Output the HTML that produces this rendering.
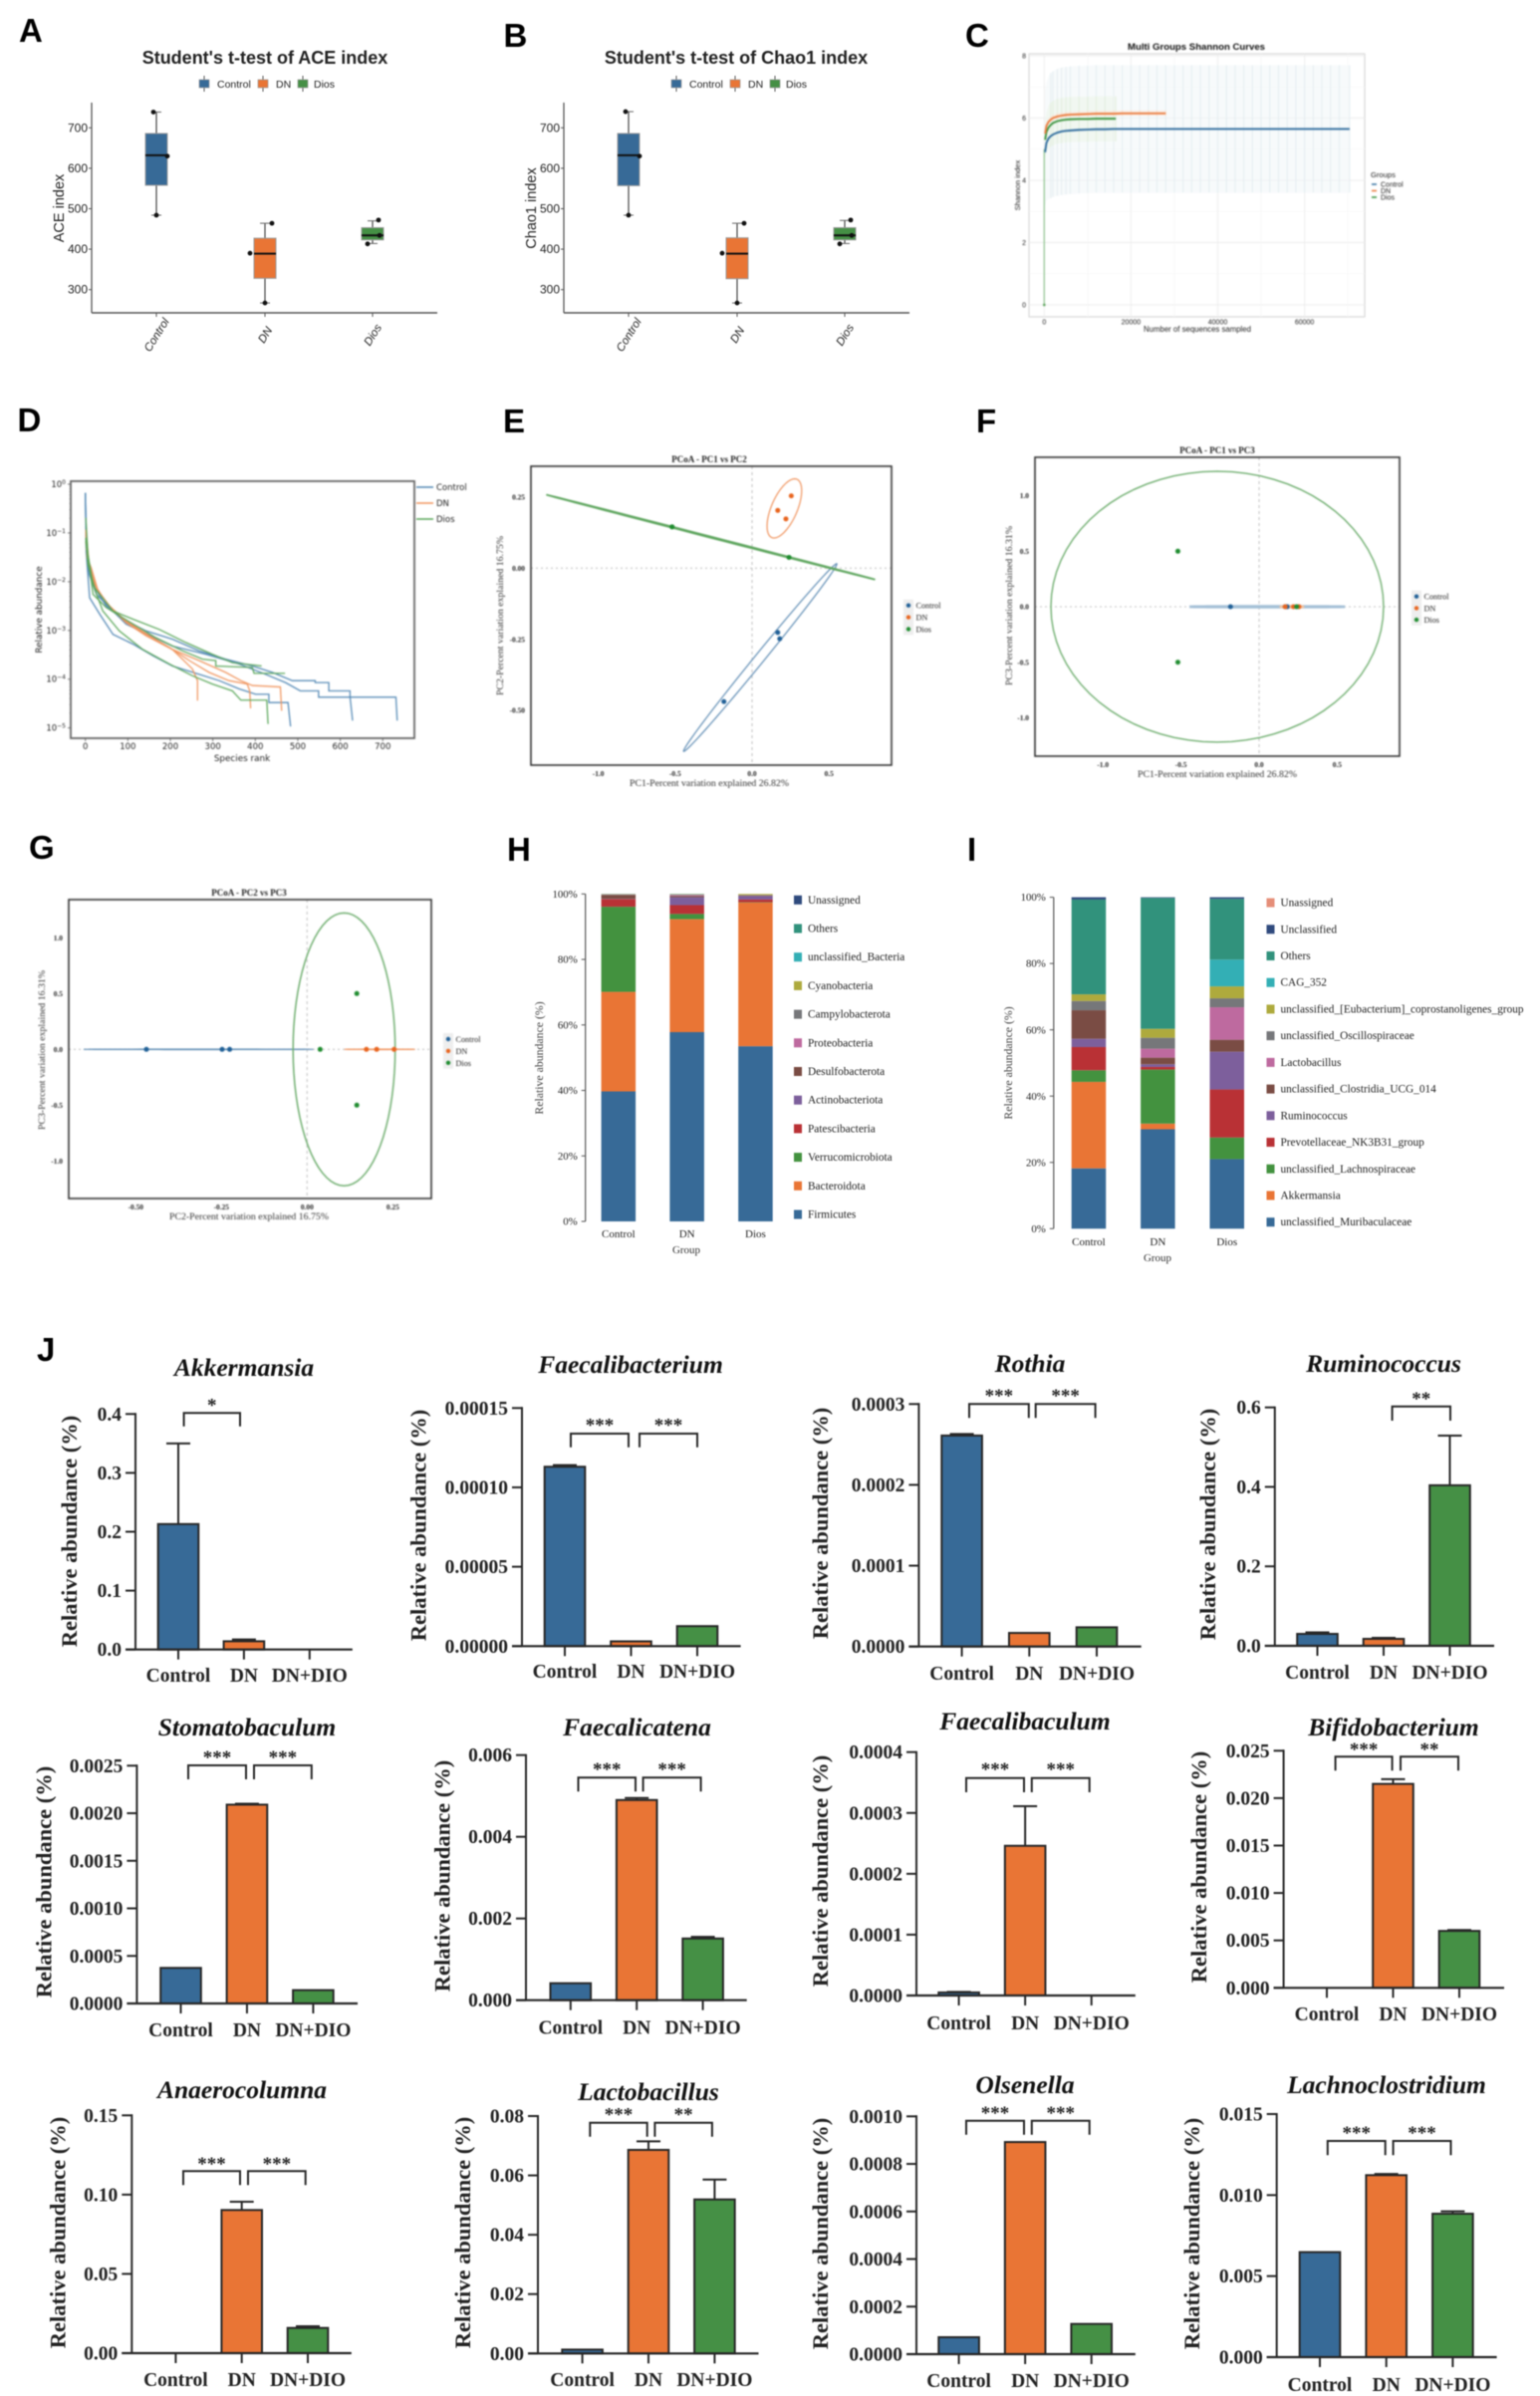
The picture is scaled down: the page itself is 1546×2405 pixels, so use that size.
<!DOCTYPE html>
<html lang="en">
<head>
<meta charset="utf-8">
<title>Gut microbiota diversity and abundance figure</title>
<style>
html,body{margin:0;padding:0;background:#fff;}
svg{display:block;}
text{fill:#222;}
.ss{font-family:"Liberation Sans",sans-serif;}
.sr{font-family:"Liberation Serif",serif;}
.dv{font-family:"DejaVu Sans",sans-serif;}
.letter{font-family:"Liberation Sans",sans-serif;font-weight:700;font-size:33px;fill:#000;}
.b-a{filter:blur(.6px);}
.b-c{filter:blur(.8px);}
.b-d{filter:blur(.8px);}
.b-p{filter:blur(.7px);}
.b-s{filter:blur(.6px);}
.b-j{filter:blur(.45px);}
.jt{font-family:"Liberation Serif",serif;font-weight:700;font-style:italic;font-size:25.5px;text-anchor:middle;fill:#111;}
.jy{font-family:"Liberation Serif",serif;font-weight:700;font-size:22.5px;text-anchor:middle;fill:#222;}
.pt{font-family:"Liberation Serif",serif;font-weight:700;font-size:9px;text-anchor:middle;}
.pa{font-family:"Liberation Serif",serif;font-size:9.2px;text-anchor:middle;fill:#333;}
.sy{font-family:"Liberation Serif",serif;font-size:11.8px;text-anchor:middle;fill:#444;}
.sx{font-family:"Liberation Serif",serif;font-size:11px;text-anchor:middle;fill:#333;}
</style>
</head>
<body>
<svg id="fig" xmlns="http://www.w3.org/2000/svg" width="1546" height="2405" viewBox="0 0 1546 2405">
<rect width="1546" height="2405" fill="#fff"/>

<g class="b-a">
<text class="letter" x="19" y="42">A</text>
<text class="letter" x="505.5" y="47">B</text>
<text class="letter" x="969" y="47">C</text>
<text class="letter" x="17.5" y="433">D</text>
<text class="letter" x="505" y="434">E</text>
<text class="letter" x="980" y="434">F</text>
<text class="letter" x="29" y="862">G</text>
<text class="letter" x="509" y="864">H</text>
<text class="letter" x="971" y="864">I</text>
<text class="letter" x="37" y="1366">J</text>
</g>

<g id="panel-a" class="b-a">
<text class="ss" x="266" y="64" font-size="18" font-weight="700" text-anchor="middle">Student's t-test of ACE index</text>
<text class="ss" transform="translate(64,209) rotate(-90)" font-size="14.5" text-anchor="middle" fill="#333">ACE index</text>
</g>
<g id="panel-b" class="b-a">
<text class="ss" x="739" y="64" font-size="18" font-weight="700" text-anchor="middle">Student's t-test of Chao1 index</text>
<text class="ss" transform="translate(538,209) rotate(-90)" font-size="14.5" text-anchor="middle" fill="#333">Chao1 index</text>
</g>

<g id="panel-c" class="b-c">
<text class="ss" x="1201" y="50" font-size="9.6" font-weight="700" text-anchor="middle" style="fill:#111">Multi Groups Shannon Curves</text>
<text class="ss" transform="translate(1024,186) rotate(-90)" font-size="7.6" text-anchor="middle" fill="#444">Shannon index</text>
<text class="ss" x="1202" y="333" font-size="7.8" text-anchor="middle" fill="#444">Number of sequences sampled</text>
<text class="ss" x="1376" y="178" font-size="7.6" fill="#333">Groups</text>
</g>

<g id="panel-d" class="b-d">
<text class="dv" transform="translate(42,612) rotate(-90)" font-size="8.8" text-anchor="middle" fill="#333">Relative abundance</text>
<text class="dv" x="243" y="764" font-size="8.8" text-anchor="middle" fill="#333">Species rank</text>
</g>

<g id="panel-e" class="b-p">
<text class="pt" x="712" y="464">PCoA - PC1 vs PC2</text>
<text class="pa" x="712" y="789" textLength="160" lengthAdjust="spacingAndGlyphs">PC1-Percent variation explained 26.82%</text>
<text class="pa" transform="translate(505,618) rotate(-90)" textLength="160" lengthAdjust="spacingAndGlyphs">PC2-Percent variation explained 16.75%</text>
</g>
<g id="panel-f" class="b-p">
<text class="pt" x="1222" y="455">PCoA - PC1 vs PC3</text>
<text class="pa" x="1222" y="780" textLength="160" lengthAdjust="spacingAndGlyphs">PC1-Percent variation explained 26.82%</text>
<text class="pa" transform="translate(1016,608) rotate(-90)" textLength="160" lengthAdjust="spacingAndGlyphs">PC3-Percent variation explained 16.31%</text>
</g>
<g id="panel-g" class="b-p">
<text class="pt" x="250" y="899">PCoA - PC2 vs PC3</text>
<text class="pa" x="250" y="1224" textLength="160" lengthAdjust="spacingAndGlyphs">PC2-Percent variation explained 16.75%</text>
<text class="pa" transform="translate(45,1054) rotate(-90)" textLength="160" lengthAdjust="spacingAndGlyphs">PC3-Percent variation explained 16.31%</text>
</g>

<g id="panel-h" class="b-s">
<text class="sy" transform="translate(545,1062) rotate(-90)">Relative abundance (%)</text>
<text class="sx" x="689" y="1258">Group</text>
</g>
<g id="panel-i" class="b-s">
<text class="sy" transform="translate(1016,1067) rotate(-90)">Relative abundance (%)</text>
<text class="sx" x="1162" y="1266">Group</text>
</g>

<g id="chart-akkermansia" class="b-j">
<text class="jt" x="245" y="1381">Akkermansia</text>
<text class="jy" transform="translate(77,1537) rotate(-90)">Relative abundance (%)</text>
</g>
<g id="chart-faecalibacterium" class="b-j">
<text class="jt" x="633" y="1378">Faecalibacterium</text>
<text class="jy" transform="translate(427.5,1531) rotate(-90)">Relative abundance (%)</text>
</g>
<g id="chart-rothia" class="b-j">
<text class="jt" x="1034" y="1377">Rothia</text>
<text class="jy" transform="translate(831,1529) rotate(-90)">Relative abundance (%)</text>
</g>
<g id="chart-ruminococcus" class="b-j">
<text class="jt" x="1389" y="1377">Ruminococcus</text>
<text class="jy" transform="translate(1220,1530) rotate(-90)">Relative abundance (%)</text>
</g>
<g id="chart-stomatobaculum" class="b-j">
<text class="jt" x="248" y="1742">Stomatobaculum</text>
<text class="jy" transform="translate(51.6,1889) rotate(-90)">Relative abundance (%)</text>
</g>
<g id="chart-faecalicatena" class="b-j">
<text class="jt" x="639.5" y="1742">Faecalicatena</text>
<text class="jy" transform="translate(451.6,1883) rotate(-90)">Relative abundance (%)</text>
</g>
<g id="chart-faecalibaculum" class="b-j">
<text class="jt" x="1029" y="1736">Faecalibaculum</text>
<text class="jy" transform="translate(831,1878) rotate(-90)">Relative abundance (%)</text>
</g>
<g id="chart-bifidobacterium" class="b-j">
<text class="jt" x="1399" y="1742">Bifidobacterium</text>
<text class="jy" transform="translate(1211,1874) rotate(-90)">Relative abundance (%)</text>
</g>
<g id="chart-anaerocolumna" class="b-j">
<text class="jt" x="243" y="2106">Anaerocolumna</text>
<text class="jy" transform="translate(65.4,2241) rotate(-90)">Relative abundance (%)</text>
</g>
<g id="chart-lactobacillus" class="b-j">
<text class="jt" x="651" y="2108">Lactobacillus</text>
<text class="jy" transform="translate(472,2241) rotate(-90)">Relative abundance (%)</text>
</g>
<g id="chart-olsenella" class="b-j">
<text class="jt" x="1029" y="2101">Olsenella</text>
<text class="jy" transform="translate(831,2242) rotate(-90)">Relative abundance (%)</text>
</g>
<g id="chart-lachnoclostridium" class="b-j">
<text class="jt" x="1392" y="2101">Lachnoclostridium</text>
<text class="jy" transform="translate(1204,2242) rotate(-90)">Relative abundance (%)</text>
</g>
</svg>

<script>
/* ---------- Panels A/B: boxplot data ---------- */
const boxCategories = ['Control', 'DN', 'Dios'];
const boxTickLabels = ['300', '400', '500', '600', '700'];
const aceMax = [739, 464, 470];
const aceQ3 = [686, 427, 453];
const aceMedian = [632, 389, 434];
const aceQ1 = [558, 328, 423];
const aceMin = [484, 267, 414];
const acePointsControl = [739, 630, 484];
const acePointsDN = [464, 390, 267];
const acePointsDios = [472, 434, 413];
const chaoMax = [740, 464, 471];
const chaoQ3 = [686, 428, 453];
const chaoMedian = [632, 389, 434];
const chaoQ1 = [557, 327, 423];
const chaoMin = [484, 267, 414];
const chaoPointsControl = [740, 630, 484];
const chaoPointsDN = [464, 390, 267];
const chaoPointsDios = [472, 434, 413];

/* ---------- Panel C: Shannon rarefaction data ---------- */
const shannonXTicks = ['0', '20000', '40000', '60000'];
const shannonYTicks = ['0', '2', '4', '6', '8'];
const controlDepths = [0,200,500,1000,1500,2000,3000,4000,5000,6000,8000,10000,12000,14000,16000,18000,20000,22000,24000,26000,28000,30000,32000,34000,36000,38000,40000,42000,44000,46000,48000,50000,52000,54000,56000,58000,60000,62000,64000,66000,68000,70400];
const controlMeans = [0,4.9,5.2,5.35,5.42,5.47,5.53,5.57,5.59,5.6,5.62,5.63,5.64,5.64,5.65,5.65,5.65,5.65,5.65,5.65,5.65,5.65,5.65,5.65,5.65,5.65,5.65,5.65,5.65,5.65,5.65,5.65,5.65,5.65,5.65,5.65,5.65,5.65,5.65,5.65,5.65,5.65];
const controlUppers = [0,6.9,7.15,7.35,7.45,7.5,7.58,7.62,7.64,7.66,7.68,7.69,7.7,7.7,7.7,7.7,7.7,7.7,7.7,7.7,7.7,7.7,7.7,7.7,7.7,7.7,7.7,7.7,7.7,7.7,7.7,7.7,7.7,7.7,7.7,7.7,7.7,7.7,7.7,7.7,7.7,7.7];
const controlLowers = [0,3.2,3.35,3.4,3.43,3.47,3.5,3.53,3.55,3.56,3.58,3.59,3.6,3.6,3.6,3.6,3.6,3.6,3.6,3.6,3.6,3.6,3.6,3.6,3.6,3.6,3.6,3.6,3.6,3.6,3.6,3.6,3.6,3.6,3.6,3.6,3.6,3.6,3.6,3.6,3.6,3.6];
const dnDepths = [0,200,500,1000,1500,2000,3000,4000,5000,6000,8000,10000,12000,14000,16000,18000,20000,22000,24000,26000,28000];
const dnMeans = [0,5.5,5.75,5.88,5.95,6,6.05,6.08,6.1,6.11,6.12,6.13,6.14,6.14,6.14,6.15,6.15,6.15,6.15,6.15,6.15];
const dnUppers = [0,5.6,5.85,5.98,6.05,6.1,6.15,6.18,6.2,6.21,6.22,6.23,6.24,6.24,6.24,6.25,6.25,6.25,6.25,6.25,6.25];
const dnLowers = [0,5.4,5.65,5.8,5.87,5.92,5.97,6,6.02,6.03,6.04,6.05,6.06,6.06,6.06,6.07,6.07,6.07,6.07,6.07,6.07];
const diosDepths = [0,200,500,1000,1500,2000,3000,4000,5000,6000,8000,10000,12000,14000,16500];
const diosMeans = [0,5.3,5.55,5.7,5.78,5.84,5.9,5.93,5.95,5.96,5.97,5.97,5.98,5.98,5.98];
const diosUppers = [0,5.9,6.2,6.4,6.5,6.55,6.62,6.65,6.67,6.68,6.69,6.69,6.7,6.7,6.7];
const diosLowers = [0,4.7,4.9,5,5.08,5.12,5.18,5.2,5.22,5.23,5.24,5.24,5.25,5.25,5.25];

/* ---------- Panel D: rank abundance curves, [rank, log10 abundance] ---------- */
const rankXTicks = ['0', '100', '200', '300', '400', '500', '600', '700'];
const rankYExponents = [0, -1, -2, -3, -4, -5];
const rankControlA = [[0,-.18],[2,-1.17],[8,-1.72],[22,-2.12],[49,-2.5],[88,-2.77],[143,-3.01],[205,-3.18],[268,-3.42],[330,-3.59],[393,-3.73],[440,-3.86],[487,-4.03],[541,-4.03],[541,-4.07],[573,-4.07],[573,-4.24],[623,-4.24],[623,-4.37],[731,-4.37],[734,-4.85]];
const rankControlB = [[0,-.18],[2,-1.31],[9,-1.85],[26,-2.26],[96,-2.87],[205,-3.32],[284,-3.49],[362,-3.69],[424,-3.9],[471,-4.07],[506,-4.24],[549,-4.24],[549,-4.37],[623,-4.37],[629,-4.85]];
const rankControlC = [[0,-.18],[2,-1.4],[10,-2.33],[34,-2.67],[65,-3.08],[112,-3.28],[159,-3.52],[205,-3.73],[268,-3.9],[315,-4.03],[362,-4.2],[401,-4.31],[432,-4.31],[432,-4.48],[477,-4.48],[483,-4.97]];
const rankDnA = [[1,-.97],[4,-1.51],[14,-1.72],[30,-2.19],[57,-2.5],[96,-2.84],[143,-3.11],[205,-3.39],[252,-3.79],[264,-4.03],[264,-4.44]];
const rankDnB = [[1,-1.17],[6,-1.58],[22,-2.06],[49,-2.43],[88,-2.77],[143,-3.08],[198,-3.35],[245,-3.62],[291,-3.86],[338,-4.03],[381,-4.1],[387,-4.24],[389,-4.6]];
const rankDnC = [[1,-.93],[9,-1.65],[26,-2.13],[53,-2.47],[96,-2.81],[151,-3.11],[205,-3.39],[268,-3.62],[330,-3.86],[366,-4.03],[393,-4.13],[459,-4.16],[462,-4.65]];
const rankDiosA = [[1,-.69],[6,-1.44],[18,-2.06],[41,-2.6],[80,-3.01],[135,-3.39],[198,-3.69],[252,-3.93],[299,-4.1],[346,-4.24],[366,-4.43],[427,-4.43],[430,-4.92]];
const rankDiosB = [[1,-1.1],[6,-1.65],[22,-2.13],[65,-2.6],[112,-2.77],[174,-2.98],[237,-3.25],[299,-3.49],[346,-3.66],[415,-3.73]];
const rankDiosC = [[1,-1.17],[9,-1.65],[18,-2.26],[49,-2.53],[88,-2.74],[166,-3.15],[229,-3.42],[276,-3.59],[307,-3.62],[307,-3.73],[393,-3.76],[397,-3.88],[470,-3.88]];

/* ---------- Panels E/F/G: PCoA data ---------- */
const pcoaGroups = ['Control', 'DN', 'Dios'];
const pc1Control = [0.167, 0.18, -0.183];
const pc2Control = [-0.226, -0.248, -0.469];
const pc3Control = [0, 0, 0];
const pc1DN = [0.255, 0.167, 0.22];
const pc2DN = [0.254, 0.203, 0.173];
const pc3DN = [0, 0, 0];
const pc1Dios = [-0.52, -0.52, 0.24];
const pc2Dios = [0.145, 0.145, 0.038];
const pc3Dios = [0.5, -0.5, 0];
const pc1Ticks = ['-1.0', '-0.5', '0.0', '0.5'];
const pc2Ticks = ['-0.50', '-0.25', '0.00', '0.25'];
const pc3Ticks = ['-1.0', '-0.5', '0.0', '0.5', '1.0'];
/* ellipse: centre x, centre y, axis-a x, axis-a y, axis-b x, axis-b y (data units) */
const ellipseEControl = [0.053, -0.314, 0.497, 0.33, 0.04, 0];
const ellipseEDN = [0.21, 0.21, 0.0675, 0.104, 0.09, 0];
const ellipseEDios = [-0.269, 0.109, 1.069, -0.149, 0, 0.002];
const ellipseFControl = [0.052, 0, 0.497, 0, 0, 0.004];
const ellipseFDN = [0.21, 0, 0.07, 0, 0, 0.004];
const ellipseFDios = [-0.268, 0, 1.065, 0, 0, 1.22];
const ellipseGControl = [-0.317, 0, 0.335, 0, 0, 0.002];
const ellipseGDN = [0.212, 0, 0.103, 0, 0, 0.002];
const ellipseGDios = [0.108, 0, 0.149, 0, 0, 1.223];

/* ---------- Panel H: phylum composition (%) ---------- */
const stackGroups = ['Control', 'DN', 'Dios'];
const stackTicks = ['0%', '20%', '40%', '60%', '80%', '100%'];
const phylumNames = ['Firmicutes','Bacteroidota','Verrucomicrobiota','Patescibacteria','Actinobacteriota','Desulfobacterota','Proteobacteria','Campylobacterota','Cyanobacteria','unclassified_Bacteria','Others','Unassigned'];
const phylumControl = [39.7,30.4,26.0,2.3,0.1,1.2,0.05,0.15,0.05,0,0.05,0];
const phylumDN = [57.8,34.5,1.6,2.7,2.4,0.4,0.3,0.1,0.1,0,0.1,0];
const phylumDios = [53.5,43.9,0.1,0.8,1.1,0.2,0,0.1,0.3,0,0,0];
const phylumColors = ['#376a97','#e97535','#43923f','#b93135','#7d5f9c','#7a4c44','#be6a9f','#76777a','#aeaa3d','#33afb5','#31927c','#2f4a7d'];

/* ---------- Panel I: genus composition (%) ---------- */
const genusNames = ['unclassified_Muribaculaceae','Akkermansia','unclassified_Lachnospiraceae','Prevotellaceae_NK3B31_group','Ruminococcus','unclassified_Clostridia_UCG_014','Lactobacillus','unclassified_Oscillospiraceae','unclassified_[Eubacterium]_coprostanoligenes_group','CAG_352','Others','Unclassified','Unassigned'];
const genusControl = [18.2,26.1,3.5,7,2.5,8.6,0,2.8,2,0,28.6,0.7,0];
const genusDN = [30,1.7,16.3,0.8,0.8,2,2.7,3.3,2.7,0,39.5,0.2,0];
const genusDios = [21,0,6.5,14.5,11.4,3.6,9.8,2.7,3.6,8.1,18.3,0.5,0];
const genusColors = ['#376a97','#e97535','#43923f','#b93135','#7d5f9c','#7a4c44','#be6a9f','#76777a','#aeaa3d','#33afb5','#31927c','#2f4a7d','#e58e78'];

/* ---------- Panel J: genus bar charts ---------- */
const barCategories = ['Control', 'DN', 'DN+DIO'];
const akkermansiaTicks = ['0.0','0.1','0.2','0.3','0.4'];
const akkermansiaValues = [0.213, 0.014, 0];
const akkermansiaErrorTops = [0.35, 0.017, 0];
const faecalibacteriumTicks = ['0.00000','0.00005','0.00010','0.00015'];
const faecalibacteriumValues = [0.000113, 0.000003, 0.0000126];
const faecalibacteriumErrorTops = [0.000114, 0.000003, 0.0000126];
const rothiaTicks = ['0.0000','0.0001','0.0002','0.0003'];
const rothiaValues = [0.000261, 0.0000168, 0.0000238];
const rothiaErrorTops = [0.000263, 0.0000168, 0.0000238];
const ruminococcusTicks = ['0.0','0.2','0.4','0.6'];
const ruminococcusValues = [0.03, 0.0175, 0.404];
const ruminococcusErrorTops = [0.034, 0.02, 0.529];
const stomatobaculumTicks = ['0.0000','0.0005','0.0010','0.0015','0.0020','0.0025'];
const stomatobaculumValues = [0.000374, 0.00209, 0.00014];
const stomatobaculumErrorTops = [0.000374, 0.0021, 0.00014];
const faecalicatenaTicks = ['0.000','0.002','0.004','0.006'];
const faecalicatenaValues = [0.000415, 0.0049, 0.00151];
const faecalicatenaErrorTops = [0.000415, 0.00495, 0.00155];
const faecalibaculumTicks = ['0.0000','0.0001','0.0002','0.0003','0.0004'];
const faecalibaculumValues = [0.000005, 0.000246, 0];
const faecalibaculumErrorTops = [0.000006, 0.000311, 0];
const bifidobacteriumTicks = ['0.000','0.005','0.010','0.015','0.020','0.025'];
const bifidobacteriumValues = [0, 0.0215, 0.006];
const bifidobacteriumErrorTops = [0, 0.022, 0.0061];
const anaerocolumnaTicks = ['0.00','0.05','0.10','0.15'];
const anaerocolumnaValues = [0, 0.0903, 0.0159];
const anaerocolumnaErrorTops = [0, 0.0955, 0.017];
const lactobacillusTicks = ['0.00','0.02','0.04','0.06','0.08'];
const lactobacillusValues = [0.0013, 0.0686, 0.0519];
const lactobacillusErrorTops = [0.0013, 0.0715, 0.0586];
const olsenellaTicks = ['0.0000','0.0002','0.0004','0.0006','0.0008','0.0010'];
const olsenellaValues = [0.0000712, 0.000892, 0.000127];
const olsenellaErrorTops = [0.0000712, 0.000892, 0.000127];
const lachnoclostridiumTicks = ['0.000','0.005','0.010','0.015'];
const lachnoclostridiumValues = [0.00648, 0.01123, 0.00885];
const lachnoclostridiumErrorTops = [0.00648, 0.0113, 0.009];

/* ---------- helpers ---------- */
const NS = 'http://www.w3.org/2000/svg';
const BLUE = '#376a97', ORANGE = '#e97535', GREEN = '#459045';
const groupColors = [BLUE, ORANGE, GREEN];
function mk(parent, tag, attrs) {
  const el = document.createElementNS(NS, tag);
  for (const k in attrs) el.setAttribute(k, attrs[k]);
  parent.appendChild(el);
  return el;
}
function tx(parent, x, y, str, attrs) {
  const el = mk(parent, 'text', Object.assign({ x: x, y: y }, attrs));
  el.textContent = str;
  return el;
}
function byId(id) { return document.getElementById(id); }

/* ---------- A / B boxplots ---------- */
function drawBox(panelId, shift, mins, q1s, meds, q3s, maxs, points, prefix) {
  const g = byId(panelId);
  const yOf = v => 128.3 + (700 - v) * 0.406;
  const xOf = i => shift + [157, 266, 374][i];
  const jitter = [[-3, 11, 0], [7, -15, 0], [6, 7, -5]];
  const yAxis = mk(g, 'line', { x1: shift + 92, y1: 103, x2: shift + 92, y2: 314, stroke: '#555', 'stroke-width': 1.3 });
  
  
  const xAxis = mk(g, 'line', { x1: shift + 92, y1: 314, x2: shift + 439, y2: 314, stroke: '#555', 'stroke-width': 1.6 });
  
  
  boxTickLabels.forEach(t => {
    const y = yOf(+t);
    mk(g, 'line', { x1: shift + 89, y1: y, x2: shift + 92, y2: y, stroke: '#555', 'stroke-width': 1 });
    const lab = tx(g, shift + 88, y + 4, t, { class: 'ss', 'font-size': 12, 'text-anchor': 'end', fill: '#444' });
    
    
  });
  boxCategories.forEach((c, i) => {
    const x = xOf(i);
    mk(g, 'line', { x1: x, y1: 314, x2: x, y2: 318, stroke: '#555', 'stroke-width': 1 });
    const lab = tx(g, 0, 4, c, { class: 'ss', 'font-size': 11.5, 'font-style': 'italic', 'text-anchor': 'middle', fill: '#444', transform: 'translate(' + x + ',336) rotate(-58)' });
    
    
    const whisker = mk(g, 'line', { x1: x, y1: yOf(maxs[i]), x2: x, y2: yOf(mins[i]), stroke: '#444', 'stroke-width': 1.2 });
    
    
    mk(g, 'line', { x1: x - 5, y1: yOf(maxs[i]), x2: x + 5, y2: yOf(maxs[i]), stroke: '#666', 'stroke-width': 1 });
    mk(g, 'line', { x1: x - 5, y1: yOf(mins[i]), x2: x + 5, y2: yOf(mins[i]), stroke: '#666', 'stroke-width': 1 });
    const box = mk(g, 'rect', { x: x - 11, y: yOf(q3s[i]), width: 22, height: yOf(q1s[i]) - yOf(q3s[i]), fill: groupColors[i], stroke: '#999', 'stroke-width': 1 });
    
    
    const med = mk(g, 'line', { x1: x - 11, y1: yOf(meds[i]), x2: x + 11, y2: yOf(meds[i]), stroke: '#111', 'stroke-width': 2 });
    
    
    points[i].forEach((p, j) => {
      const dot = mk(g, 'circle', { cx: x + jitter[i][j], cy: yOf(p), r: 2.4, fill: '#111' });
      
      
    });
  });
  const keyX = [205, 264, 304], textX = [218, 277, 315];
  boxCategories.forEach((c, i) => {
    mk(g, 'line', { x1: shift + keyX[i], y1: 76, x2: shift + keyX[i], y2: 92, stroke: '#555', 'stroke-width': 1 });
    const key = mk(g, 'rect', { x: shift + keyX[i] - 5, y: 80, width: 10, height: 8, fill: groupColors[i], stroke: '#999', 'stroke-width': 0.7 });
    
    
    const lab = tx(g, shift + textX[i], 88, c, { class: 'ss', 'font-size': 10.5, fill: '#444' });
    
    
  });
}
drawBox('panel-a', 0, aceMin, aceQ1, aceMedian, aceQ3, aceMax, [acePointsControl, acePointsDN, acePointsDios], 'ace');
drawBox('panel-b', 474, chaoMin, chaoQ1, chaoMedian, chaoQ3, chaoMax, [chaoPointsControl, chaoPointsDN, chaoPointsDios], 'chao1');

/* ---------- C Shannon curves ---------- */
(function () {
  const g = byId('panel-c');
  const xOf = v => 1048.3 + v * 87.1 / 20000;
  const yOf = v => 306 - v * 31.25;
  const frame = mk(g, 'rect', { x: 1033, y: 54, width: 337, height: 264, fill: '#fff', stroke: '#d8d8d8', 'stroke-width': 1.2 });
  
  
  shannonYTicks.forEach(t => {
    const y = yOf(+t);
    mk(g, 'line', { x1: 1033, y1: y, x2: 1370, y2: y, stroke: '#ececec', 'stroke-width': 0.9 });
    if (+t < 8) mk(g, 'line', { x1: 1033, y1: yOf(+t + 1), x2: 1370, y2: yOf(+t + 1), stroke: '#f5f5f5', 'stroke-width': 0.6 });
    const lab = tx(g, 1030, y + 2.5, t, { class: 'ss', 'font-size': 7, 'text-anchor': 'end', fill: '#555' });
    
    
  });
  shannonXTicks.forEach(t => {
    const x = xOf(+t);
    mk(g, 'line', { x1: x, y1: 54, x2: x, y2: 318, stroke: '#ececec', 'stroke-width': 0.9 });
    mk(g, 'line', { x1: xOf(+t + 10000), y1: 54, x2: xOf(+t + 10000), y2: 318, stroke: '#f5f5f5', 'stroke-width': 0.6 });
    const lab = tx(g, x, 325.5, t, { class: 'ss', 'font-size': 7, 'text-anchor': 'middle', fill: '#555' });
    
    
  });
  const series = [
    ['Control', controlDepths, controlMeans, controlUppers, controlLowers, '#2f6c9e', '#f0f5f7', '#e2ecf0'],
    ['Dios', diosDepths, diosMeans, diosUppers, diosLowers, '#3d9440', '#ecf4ea', '#e0eedc'],
    ['DN', dnDepths, dnMeans, dnUppers, dnLowers, '#ea7c3f', '#fbe9de', '#f8decd']
  ];
  series.forEach(s => {
    const d = s[1], up = s[3], lo = s[4];
    const pts = d.map((v, i) => xOf(v) + ',' + yOf(up[i])).concat(d.map((v, i) => xOf(v) + ',' + yOf(lo[i])).reverse()).join(' ');
    const band = mk(g, 'polygon', { points: pts, fill: s[6], 'fill-opacity': 0.55 });
    
    
    d.forEach((v, i) => {
      if (i > 3) {
        const stripe = mk(g, 'line', { x1: xOf(v), y1: yOf(up[i]), x2: xOf(v), y2: yOf(lo[i]), stroke: s[7], 'stroke-width': 0.9 });
        
        
      }
    });
  });
  mk(g, 'line', { x1: xOf(0), y1: yOf(0), x2: xOf(0), y2: yOf(5), stroke: '#9ccb9c', 'stroke-width': 1.4 });
  mk(g, 'circle', { cx: xOf(0), cy: yOf(0), r: 1.3, fill: '#5aa35a' });
  series.forEach(s => {
    const path = mk(g, 'polyline', { points: s[1].slice(1).map((v, i) => xOf(v) + ',' + yOf(s[2][i + 1])).join(' '), fill: 'none', stroke: s[5], 'stroke-width': 1.9 });
    
    
  });
  const legendNames = ['Control', 'DN', 'Dios'], legendColors = ['#3f78a5', '#ea7c3f', '#3d9440'];
  legendNames.forEach((n, i) => {
    const y = 185 + i * 6.5;
    const key = mk(g, 'line', { x1: 1377, y1: y, x2: 1382, y2: y, stroke: legendColors[i], 'stroke-width': 1.6 });
    
    
    const lab = tx(g, 1386, y + 2.6, n, { class: 'ss', 'font-size': 7, fill: '#444' });
    
    
  });
})();

/* ---------- D rank abundance ---------- */
(function () {
  const g = byId('panel-d');
  const xOf = v => 85.7 + v * 0.4265;
  const yOf = e => 486 - e * 48.93;
  const curves = [
    ['control-a', rankControlA, '#4f86b3'], ['control-b', rankControlB, '#4f86b3'], ['control-c', rankControlC, '#4f86b3'],
    ['dn-a', rankDnA, '#f0935c'], ['dn-b', rankDnB, '#f0935c'], ['dn-c', rankDnC, '#f0935c'],
    ['dios-a', rankDiosA, '#57a557'], ['dios-b', rankDiosB, '#57a557'], ['dios-c', rankDiosC, '#57a557']
  ];
  curves.forEach(c => {
    const line = mk(g, 'polyline', { points: c[1].map(p => xOf(p[0]) + ',' + yOf(p[1])).join(' '), fill: 'none', stroke: c[2], 'stroke-width': 1.3, 'stroke-opacity': 0.95 });
    
    
  });
  const frame = mk(g, 'rect', { x: 71, y: 483, width: 345, height: 258, fill: 'none', stroke: '#666', 'stroke-width': 1.8 });
  
  
  rankXTicks.forEach(t => {
    const x = xOf(+t);
    mk(g, 'line', { x1: x, y1: 741, x2: x, y2: 744, stroke: '#555', 'stroke-width': 0.8 });
    const lab = tx(g, x, 752, t, { class: 'dv', 'font-size': 8.5, 'text-anchor': 'middle', fill: '#444' });
    
    
  });
  rankYExponents.forEach(e => {
    const y = yOf(e);
    mk(g, 'line', { x1: 68, y1: y, x2: 71, y2: y, stroke: '#555', 'stroke-width': 0.8 });
    const lab = tx(g, 66, y + 3, '10', { class: 'dv', 'font-size': 8.5, 'text-anchor': 'end', fill: '#444' });
    const sup = mk(lab, 'tspan', { dy: -3, 'font-size': 6 });
    sup.textContent = e === 0 ? '0' : '\u2212' + (-e);
    
    
    if (e > -5) {
      [2, 3, 4, 5, 6, 7, 8, 9].forEach(m => {
        const my = yOf(e - 1 + Math.log10(m));
        mk(g, 'line', { x1: 69.5, y1: my, x2: 71, y2: my, stroke: '#777', 'stroke-width': 0.5 });
      });
    }
  });
  const legendNames = ['Control', 'DN', 'Dios'], legendColors = ['#4f86b3', '#f0935c', '#57a557'], legendY = [489, 505, 521];
  legendNames.forEach((n, i) => {
    const key = mk(g, 'line', { x1: 418, y1: legendY[i], x2: 435, y2: legendY[i], stroke: legendColors[i], 'stroke-width': 1.4 });
    
    
    const lab = tx(g, 438, legendY[i] + 3, n, { class: 'dv', 'font-size': 8.5, fill: '#444' });
    
    
  });
})();

/* ---------- E/F/G PCoA ---------- */
function drawPcoa(panelId, prefix, box, xData, yData, ellipses, xTicks, yTicks, legend) {
  const g = byId(panelId);
  const xOf = v => box.x0 + v * box.xu;
  const yOf = v => box.y0 - v * box.yu;
  mk(g, 'line', { x1: box.x0, y1: box.t, x2: box.x0, y2: box.b, stroke: '#c4c4c4', 'stroke-width': 1.1, 'stroke-dasharray': '3 3' });
  mk(g, 'line', { x1: box.l, y1: box.y0, x2: box.r, y2: box.y0, stroke: '#c4c4c4', 'stroke-width': 1.1, 'stroke-dasharray': '2 3' });
  const order = [0, 1, 2];
  order.forEach(i => {
    const e = ellipses[i], pts = [];
    for (let k = 0; k <= 72; k++) {
      const t = k / 72 * 2 * Math.PI;
      pts.push(xOf(e[0] + Math.cos(t) * e[2] + Math.sin(t) * e[4]) + ',' + yOf(e[1] + Math.cos(t) * e[3] + Math.sin(t) * e[5]));
    }
    const el = mk(g, 'polygon', { points: pts.join(' '), fill: 'none', stroke: box.ellipseColors[i], 'stroke-width': box.ellipseWidths[i] });
    
    
  });
  order.forEach(i => {
    xData[i].forEach((v, j) => {
      const dot = mk(g, 'circle', { cx: xOf(v), cy: yOf(yData[i][j]), r: 2.5, fill: ['#1f5f96', '#e8641e', '#1f8c2f'][i] });
      
      
    });
  });
  const frame = mk(g, 'rect', { x: box.l, y: box.t, width: box.r - box.l, height: box.b - box.t, fill: 'none', stroke: '#333', 'stroke-width': 1.6 });
  
  
  xTicks.forEach(t => {
    const x = xOf(+t);
    const lab = tx(g, x, box.b + 11, t, { class: 'sr', 'font-size': 7.4, 'font-weight': 700, 'text-anchor': 'middle', fill: '#333' });
    
    
  });
  yTicks.forEach(t => {
    const y = yOf(+t);
    const lab = tx(g, box.l - 6, y + 2.6, t, { class: 'sr', 'font-size': 7.4, 'font-weight': 700, 'text-anchor': 'end', fill: '#333' });
    
    
  });
  pcoaGroups.forEach((n, i) => {
    const y = legend.y + i * legend.dy;
    mk(g, 'rect', { x: legend.x - 5, y: y - 6, width: 10, height: legend.dy, fill: '#eeeeee' });
    const key = mk(g, 'circle', { cx: legend.x, cy: y, r: 2.2, fill: ['#1f5f96', '#e8641e', '#1f8c2f'][i] });
    
    
    const lab = tx(g, legend.x + 7.5, y + 3, n, { class: 'sr', 'font-size': 8.2, fill: '#333' });
    
    
  });
}
drawPcoa('panel-e', 'pcoa-e', { l: 533, r: 895, t: 468, b: 768, x0: 755, xu: 154.4, y0: 570.3, yu: 285.6, ellipseColors: ['#5d8bb3', '#f0945e', '#5fa65f'], ellipseWidths: [1.2, 1.2, 1.7] },
  [pc1Control, pc1DN, pc1Dios], [pc2Control, pc2DN, pc2Dios],
  [ellipseEControl, ellipseEDN, ellipseEDios], pc1Ticks, pc2Ticks, { x: 912, y: 607.7, dy: 11.9 });
drawPcoa('panel-f', 'pcoa-f', { l: 1039, r: 1405, t: 459, b: 759, x0: 1264, xu: 156.8, y0: 609, yu: 111.4, ellipseColors: ['#a3bfd6', '#f3c29e', '#6fae6f'], ellipseWidths: [2.6, 2.6, 1.4] },
  [pc1Control, pc1DN, pc1Dios], [pc3Control, pc3DN, pc3Dios],
  [ellipseFControl, ellipseFDN, ellipseFDios], pc1Ticks, pc3Ticks, { x: 1422, y: 598.7, dy: 11.7 });
drawPcoa('panel-g', 'pcoa-g', { l: 69, r: 433, t: 903, b: 1203, x0: 308.3, xu: 344, y0: 1053.3, yu: 112, ellipseColors: ['#5d8bb3', '#f0945e', '#6fae6f'], ellipseWidths: [1.1, 1.1, 1.5] },
  [pc2Control, pc2DN, pc2Dios], [pc3Control, pc3DN, pc3Dios],
  [ellipseGControl, ellipseGDN, ellipseGDios], pc2Ticks, pc3Ticks, { x: 450, y: 1043, dy: 11.9 });

/* ---------- H/I stacked bars ---------- */
function drawStack(panelId, prefix, L, names, colors, rows) {
  const g = byId(panelId);
  const yOf = v => L.y0 - v * L.unit;
  const axis = mk(g, 'line', { x1: L.axisX, y1: yOf(100), x2: L.axisX, y2: yOf(0), stroke: '#555', 'stroke-width': 1.2 });
  
  
  stackTicks.forEach(t => {
    const y = yOf(parseFloat(t));
    mk(g, 'line', { x1: L.axisX - 4, y1: y, x2: L.axisX, y2: y, stroke: '#555', 'stroke-width': 1 });
    const lab = tx(g, L.axisX - 8, y + 3.6, t, { class: 'sr', 'font-size': 10.8, 'text-anchor': 'end', fill: '#333' });
    
    
  });
  rows.forEach((row, i) => {
    const x = L.barX + i * L.step;
    let cum = 0;
    row.forEach((v, s) => {
      if (v > 0) {
        const seg = mk(g, 'rect', { x: x, y: yOf(cum + v), width: L.barW, height: v * L.unit, fill: colors[s] });
        
        
      }
      cum += v;
    });
    const lab = tx(g, x + L.barW / 2, L.labelY, stackGroups[i], { class: 'sr', 'font-size': 11, 'text-anchor': 'middle', fill: '#333' });
    
    
  });
  names.forEach((n, s) => {
    const y = L.legendBottom - s * L.legendStep;
    const key = mk(g, 'rect', { x: L.keyX, y: y - 4.5, width: 8, height: 9, fill: colors[s] });
    
    
    const lab = tx(g, L.keyX + 14, y + 3.5, n, { class: 'sr', 'font-size': 11.3, fill: '#222' });
    
    
  });
}
drawStack('panel-h', 'phylum', { axisX: 587.7, y0: 1226, unit: 3.287, barX: 603.6, step: 68.8, barW: 34.5, labelY: 1242, keyX: 797, legendBottom: 1219, legendStep: 28.7 },
  phylumNames, phylumColors, [phylumControl, phylumDN, phylumDios]);
drawStack('panel-i', 'genus', { axisX: 1057.8, y0: 1233.3, unit: 3.327, barX: 1075.7, step: 69.4, barW: 34.5, labelY: 1250, keyX: 1271.5, legendBottom: 1226.7, legendStep: 26.72 },
  genusNames, genusColors, [genusControl, genusDN, genusDios]);

/* ---------- J bar charts ---------- */
function drawBars(id, prefix, L, ticks, values, tops) {
  const g = byId(id);
  const max = parseFloat(ticks[ticks.length - 1]);
  const yOf = v => L.base - (v / max) * (L.base - L.top);
  const xOf = i => L.cat0 + i * L.catStep;
  const ink = '#272727';
  const yAxis = mk(g, 'line', { x1: L.axisX, y1: L.top - 1, x2: L.axisX, y2: L.base, stroke: ink, 'stroke-width': 2 });
  
  
  ticks.forEach(t => {
    const y = yOf(parseFloat(t));
    const mark = mk(g, 'line', { x1: L.axisX - 10, y1: y, x2: L.axisX, y2: y, stroke: ink, 'stroke-width': 2 });
    
    
    const lab = tx(g, L.axisX - 14, y + 6.5, t, { class: 'sr', 'font-size': 19.5, 'font-weight': 700, 'text-anchor': 'end', fill: '#2a2a2a' });
    
    
  });
  values.forEach((v, i) => {
    const x = xOf(i), W = 42.6;
    if (tops[i] > v) {
      const err = mk(g, 'line', { x1: x, y1: yOf(tops[i]), x2: x, y2: yOf(v), stroke: ink, 'stroke-width': 2 });
      
      
      const cap = mk(g, 'line', { x1: x - 12, y1: yOf(tops[i]), x2: x + 12, y2: yOf(tops[i]), stroke: ink, 'stroke-width': 2 });
      
      
    }
    if (v > 0) {
      const bar = mk(g, 'rect', { x: x - W / 2 + 1, y: yOf(v), width: W - 2, height: L.base - yOf(v), fill: groupColors[i], stroke: ink, 'stroke-width': 2 });
      
      
    }
  });
  const xAxis = mk(g, 'line', { x1: L.axisX - 10, y1: L.base, x2: L.endX, y2: L.base, stroke: ink, 'stroke-width': 2.2 });
  
  
  barCategories.forEach((c, i) => {
    const x = xOf(i);
    const mark = mk(g, 'line', { x1: x, y1: L.base, x2: x, y2: L.base + 10, stroke: ink, 'stroke-width': 2 });
    
    
    const lab = tx(g, x, L.labelY + 6.5, c, { class: 'sr', 'font-size': 19.5, 'font-weight': 700, 'text-anchor': 'middle', fill: '#2a2a2a' });
    
    
  });
  L.brackets.forEach(b => {
    const br = mk(g, 'polyline', { points: b.x1 + ',' + L.brBottom + ' ' + b.x1 + ',' + L.brTop + ' ' + b.x2 + ',' + L.brTop + ' ' + b.x2 + ',' + L.brBottom, fill: 'none', stroke: ink, 'stroke-width': 2 });
    
    
    const star = tx(g, (b.starX || (b.x1 + b.x2) / 2), L.starY + 9.5, b.stars, { class: 'sr', 'font-size': 19, 'font-weight': 700, 'text-anchor': 'middle', fill: '#111' });
    
    
  });
}
drawBars('chart-akkermansia', 'akkermansia', { axisX: 136, top: 1419.3, base: 1655.7, endX: 353.8, cat0: 179, catStep: 65.9, labelY: 1681.7, brTop: 1418.3, brBottom: 1431.7, starY: 1407, brackets: [{ x1: 184.6, x2: 241, stars: '*' }] }, akkermansiaTicks, akkermansiaValues, akkermansiaErrorTops);
drawBars('chart-faecalibacterium', 'faecalibacterium', { axisX: 524, top: 1413.3, base: 1652.3, endX: 743.6, cat0: 567, catStep: 66.5, labelY: 1677.7, brTop: 1439, brBottom: 1452.7, starY: 1427, brackets: [{ x1: 573, x2: 631, stars: '***' }, { x1: 642, x2: 700, stars: '***' }] }, faecalibacteriumTicks, faecalibacteriumValues, faecalibacteriumErrorTops);
drawBars('chart-rothia', 'rothia', { axisX: 922.4, top: 1409.3, base: 1652.7, endX: 1145.7, cat0: 965.6, catStep: 67.7, labelY: 1679.3, brTop: 1409.3, brBottom: 1423.3, starY: 1397.7, brackets: [{ x1: 973, x2: 1032.8, stars: '***' }, { x1: 1039.7, x2: 1099.6, stars: '***' }] }, rothiaTicks, rothiaValues, rothiaErrorTops);
drawBars('chart-ruminococcus', 'ruminococcus', { axisX: 1279.8, top: 1412.7, base: 1652, endX: 1500, cat0: 1322.5, catStep: 66.5, labelY: 1678.3, brTop: 1411.7, brBottom: 1426, starY: 1400.7, brackets: [{ x1: 1397.6, x2: 1456, stars: '**' }] }, ruminococcusTicks, ruminococcusValues, ruminococcusErrorTops);
drawBars('chart-stomatobaculum', 'stomatobaculum', { axisX: 137.4, top: 1772.3, base: 2011, endX: 359, cat0: 181.5, catStep: 66.45, labelY: 2037.3, brTop: 1772, brBottom: 1786, starY: 1760.7, brackets: [{ x1: 189, x2: 247, stars: '***' }, { x1: 255, x2: 312.8, stars: '***' }] }, stomatobaculumTicks, stomatobaculumValues, stomatobaculumErrorTops);
drawBars('chart-faecalicatena', 'faecalicatena', { axisX: 528, top: 1761.7, base: 2007.7, endX: 749.7, cat0: 572.8, catStep: 66.4, labelY: 2035, brTop: 1784.3, brBottom: 1798.3, starY: 1772.3, brackets: [{ x1: 580.5, x2: 638, stars: '***' }, { x1: 645.6, x2: 703.6, stars: '***' }] }, faecalicatenaTicks, faecalicatenaValues, faecalicatenaErrorTops);
drawBars('chart-faecalibaculum', 'faecalibaculum', { axisX: 920, top: 1758.7, base: 2003, endX: 1139.8, cat0: 962.6, catStep: 66.55, labelY: 2030.7, brTop: 1784.7, brBottom: 1799, starY: 1772.3, brackets: [{ x1: 970, x2: 1028, stars: '***' }, { x1: 1035.8, x2: 1093.7, stars: '***' }] }, faecalibaculumTicks, faecalibaculumValues, faecalibaculumErrorTops);
drawBars('chart-bifidobacterium', 'bifidobacterium', { axisX: 1288.6, top: 1757.3, base: 1995.3, endX: 1510, cat0: 1332, catStep: 66.5, labelY: 2021.7, brTop: 1763.3, brBottom: 1777.3, starY: 1752.3, brackets: [{ x1: 1340.6, x2: 1397.6, stars: '***' }, { x1: 1406, x2: 1464, stars: '**' }] }, bifidobacteriumTicks, bifidobacteriumValues, bifidobacteriumErrorTops);
drawBars('chart-anaerocolumna', 'anaerocolumna', { axisX: 132.3, top: 2123.3, base: 2362, endX: 352.8, cat0: 176.4, catStep: 66.3, labelY: 2388.3, brTop: 2179.3, brBottom: 2193.3, starY: 2168.3, brackets: [{ x1: 184, x2: 241, stars: '***' }, { x1: 249, x2: 306.7, stars: '***' }] }, anaerocolumnaTicks, anaerocolumnaValues, anaerocolumnaErrorTops);
drawBars('chart-lactobacillus', 'lactobacillus', { axisX: 540, top: 2124, base: 2362.3, endX: 761.5, cat0: 584.6, catStep: 66.4, labelY: 2388.3, brTop: 2130.7, brBottom: 2144.7, starY: 2119, brackets: [{ x1: 592.3, x2: 649.7, stars: '***' }, { x1: 657.4, x2: 714.9, stars: '**' }] }, lactobacillusTicks, lactobacillusValues, lactobacillusErrorTops);
drawBars('chart-olsenella', 'olsenella', { axisX: 920, top: 2124.3, base: 2363, endX: 1139.8, cat0: 962.6, catStep: 66.55, labelY: 2389.3, brTop: 2128.7, brBottom: 2142.7, starY: 2117.3, brackets: [{ x1: 970, x2: 1028, stars: '***' }, { x1: 1035.8, x2: 1093.7, stars: '***' }] }, olsenellaTicks, olsenellaValues, olsenellaErrorTops);
drawBars('chart-lachnoclostridium', 'lachnoclostridium', { axisX: 1281.7, top: 2122, base: 2366, endX: 1502.6, cat0: 1325, catStep: 66.7, labelY: 2393.3, brTop: 2149, brBottom: 2163.3, starY: 2137.3, brackets: [{ x1: 1332.8, x2: 1390.7, stars: '***' }, { x1: 1398.6, x2: 1456.5, stars: '***' }] }, lachnoclostridiumTicks, lachnoclostridiumValues, lachnoclostridiumErrorTops);
</script>
</body>
</html>
